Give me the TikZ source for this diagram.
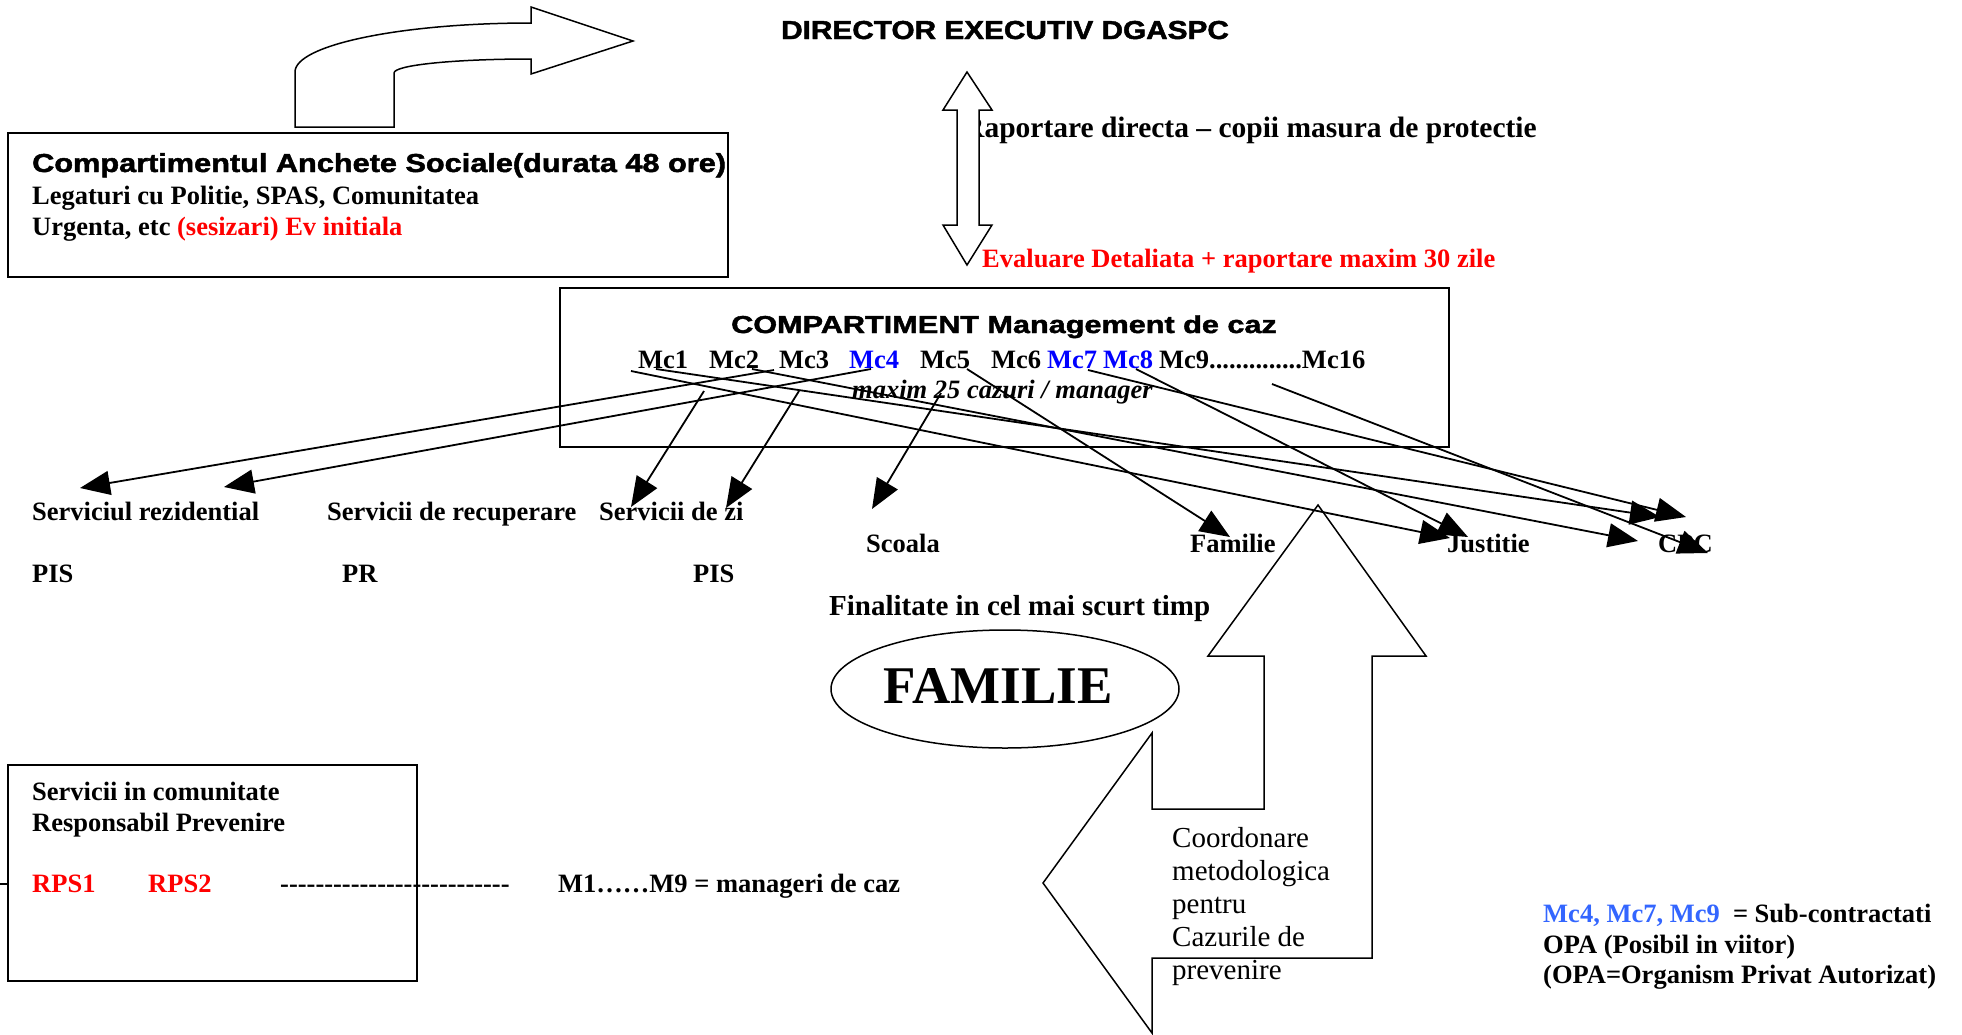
\documentclass[tikz,border=0pt]{standalone}
\usepackage{fontspec}
\setmainfont{Liberation Serif}
\newfontfamily\arialf{Liberation Sans}[BoldFeatures={FakeBold=1.6}]
\usetikzlibrary{arrows.meta,shapes.geometric}
\definecolor{mcblue}{RGB}{0,0,255}
\definecolor{libblue}{RGB}{51,102,255}
\definecolor{myred}{RGB}{255,0,0}
\newcommand{\fs}[1]{\fontsize{#1}{#1}\selectfont}
\begin{document}
\begin{tikzpicture}[x=1pt,y=-1pt,
  lbl/.style={inner sep=0pt,anchor=base west,font={\fs{26.5}\bfseries}},
  plain/.style={inner sep=0pt,anchor=base west,font={\fs{29}}},
  boxline/.style={draw=black,line width=1.8pt,inner sep=0pt,anchor=north west},
  shapeline/.style={draw=black,fill=white,line width=1.5pt,line join=miter},
  conn/.style={line width=1.8pt,-{Triangle[length=30pt,width=24pt]}}]
\useasboundingbox[fill=white] (0,0) rectangle (1962,1034);

% top curved arrow
\draw[shapeline] (295,127) -- (295,72) .. controls (295,45) and (401,23) .. (531,23)
  -- (531,7) -- (633,41) -- (531,74) -- (531,59)
  .. controls (455,59) and (394,65) .. (394,73) -- (394,127) -- cycle;

% title
\node[inner sep=0pt,anchor=base west,font={\arialf\fs{26}\bfseries}] (dir) at (781,39) {\scalebox{1.145}[1]{DIRECTOR EXECUTIV DGASPC}};

% box anchete
\node[boxline,minimum width=720pt,minimum height=144pt] (anchbox) at (7,132) {};
\node[inner sep=0pt,anchor=base west,font={\arialf\fs{26}\bfseries}] (anchtitle) at (32,172) {\scalebox{1.18}[1]{Compartimentul Anchete Sociale(durata 48 ore)}};
\node[lbl] (leg) at (32,204) {Legaturi cu Politie, SPAS, Comunitatea};
\node[lbl] (urg) at (32,235) {Urgenta, etc \textcolor{myred}{(sesizari) Ev initiala}};

% raportare text (partly hidden by the arrow)
\node[lbl,font={\fs{29.5}\bfseries}] (rap) at (963,137) {Raportare directa – copii masura de protectie};
\node[lbl,text=myred] (eval) at (982,267) {Evaluare Detaliata + raportare maxim 30 zile};

% double arrow
\draw[shapeline] (967,72) -- (992,110) -- (979,110) -- (979,225) -- (992,225) -- (967,265)
  -- (943,225) -- (957,225) -- (957,110) -- (943,110) -- cycle;

% box management
\node[boxline,minimum width=889pt,minimum height=159pt] (mgmtbox) at (559,287) {};
\node[inner sep=0pt,anchor=base west,font={\arialf\fs{24.5}\bfseries}] (mgmttitle) at (731,333) {\scalebox{1.25}[1]{COMPARTIMENT Management de caz}};
\node[lbl] (mc1) at (638,368) {Mc1};
\node[lbl] (mc2) at (709,368) {Mc2};
\node[lbl] (mc3) at (779,368) {Mc3};
\node[lbl,text=mcblue] (mc4) at (849,368) {Mc4};
\node[lbl] (mc5) at (920,368) {Mc5};
\node[lbl] (mc6) at (991,368) {Mc6};
\node[lbl,text=mcblue] (mc7) at (1047,368) {Mc7};
\node[lbl,text=mcblue] (mc8) at (1103,368) {Mc8};
\node[lbl] (mc9) at (1159,368) {Mc9..............Mc16};
\node[lbl,font={\fs{26.5}\bfseries\itshape}] (maxim) at (852,398) {maxim 25 cazuri / manager};

% target labels
\node[lbl] (rez) at (32,520) {Serviciul rezidential};
\node[lbl] (recup) at (327,520) {Servicii de recuperare};
\node[lbl] (dezi) at (599,520) {Servicii de zi};
\node[lbl] (pis1) at (32,582) {PIS};
\node[lbl] (pr) at (342,582) {PR};
\node[lbl] (pis2) at (693,582) {PIS};
\node[lbl] (scoala) at (866,552) {Scoala};
\node[lbl] (familie) at (1190,552) {Familie};
\node[lbl] (justitie) at (1447,552) {Justitie};
\node[lbl] (cpc) at (1658,552) {CPC};
\node[lbl,font={\fs{29}\bfseries}] (final) at (829,615) {Finalitate in cel mai scurt timp};

% FAMILIE ellipse
\node[draw,ellipse,line width=1.5pt,minimum width=348pt,minimum height=118pt,inner sep=0pt] (famell) at (1005,689) {};
\node[inner sep=0pt,anchor=base,font={\fs{53}\bfseries}] (famtext) at (998,703) {FAMILIE};

% left-up arrow
\draw[shapeline] (1318,505) -- (1426,656) -- (1372,656) -- (1372,958) -- (1152,958)
  -- (1152,1033) -- (1043,883) -- (1152,733) -- (1152,809) -- (1264,809)
  -- (1264,656) -- (1208,656) -- cycle;
\node[plain] (co1) at (1172,847) {Coordonare};
\node[plain] (co2) at (1172,880) {metodologica};
\node[plain] (co3) at (1172,913) {pentru};
\node[plain] (co4) at (1172,946) {Cazurile de};
\node[plain] (co5) at (1172,979) {prevenire};

% community box
\node[boxline,minimum width=409pt,minimum height=216pt] (combox) at (7,764) {};
\coordinate (edge0) at (0,884);
\coordinate (edge1) at (7,884);
\draw[line width=1.8pt] (edge0) -- (edge1);
\node[lbl] (sc1) at (32,800) {Servicii in comunitate};
\node[lbl] (sc2) at (32,831) {Responsabil Prevenire};
\node[lbl,text=myred] (rps1) at (32,892) {RPS1};
\node[lbl,text=myred] (rps2) at (148,892) {RPS2};
\node[lbl] (dashes) at (280,892) {-{}-{}-{}-{}-{}-{}-{}-{}-{}-{}-{}-{}-{}-{}-{}-{}-{}-{}-{}-{}-{}-{}-{}-{}-{}-{}};
\node[lbl] (mm) at (558,892) {M1……M9 = manageri de caz};

% legend
\node[lbl] (leg1) at (1543,922) {\textcolor{libblue}{Mc4, Mc7, Mc9}\ \ = Sub-contractati};
\node[lbl] (leg2) at (1543,953) {OPA (Posibil in viitor)};
\node[lbl] (leg3) at (1543,983) {(OPA=Organism Privat Autorizat)};

% connectors
\coordinate (s1) at (774,370);  \coordinate (t1) at (80,488);
\coordinate (s2) at (871,369);  \coordinate (t2) at (224,487);
\coordinate (s3) at (704,391);  \coordinate (t3) at (631,507);
\coordinate (s4) at (799,391);  \coordinate (t4) at (726,508);
\coordinate (s5) at (941,393);  \coordinate (t5) at (872,509);
\coordinate (s6) at (967,369);  \coordinate (t6) at (1230,537);
\coordinate (s7) at (631,371);  \coordinate (t7) at (1450,538);
\coordinate (s8) at (1136,369); \coordinate (t8) at (1468,537);
\coordinate (s9) at (752,369);  \coordinate (t9) at (1638,541);
\coordinate (s10) at (656,369); \coordinate (t10) at (1660,517);
\coordinate (s11) at (1088,370); \coordinate (t11) at (1686,517);
\coordinate (s12) at (1272,384); \coordinate (t12) at (1708,553);
\foreach \i in {1,...,12} {\draw[conn] (s\i) -- (t\i);}
\end{tikzpicture}
\end{document}
